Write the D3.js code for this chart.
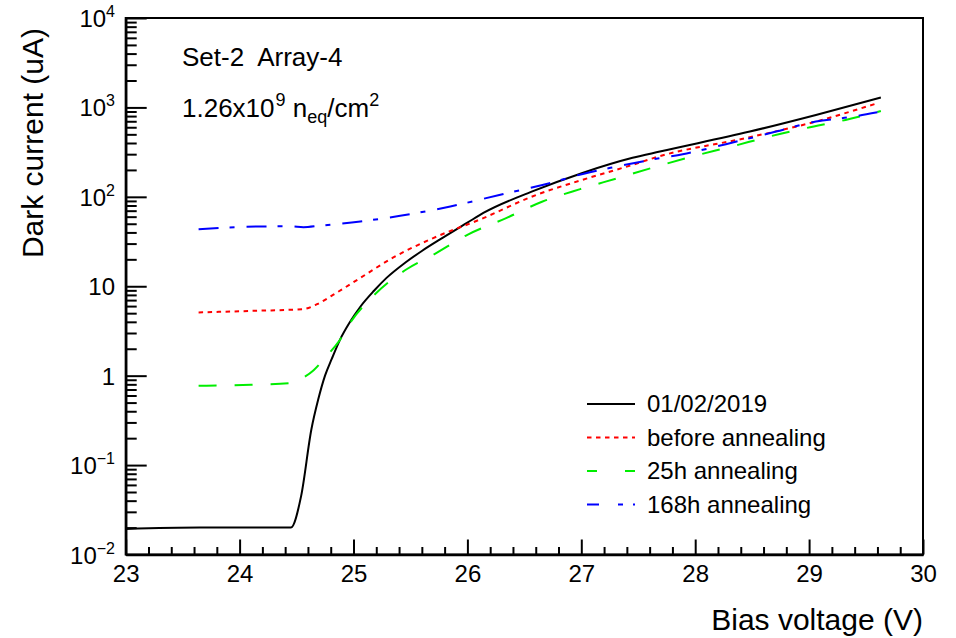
<!DOCTYPE html>
<html>
<head>
<meta charset="utf-8">
<script src="https://cdn.jsdelivr.net/npm/d3@7"></script>
<style>
  body { margin: 0; background: #fff; }
  svg { display: block; font-family: "Liberation Sans", Arial, sans-serif; }
</style>
</head>
<body>
<script>
// bias voltage (V) and dark current (uA)
const voltBlack = [23.0, 23.65, 24.45, 24.54, 24.63, 24.69, 24.75, 24.81, 24.88, 24.97, 25.06, 25.18, 25.29, 25.45, 25.60, 25.76, 26.0, 26.14, 26.57, 27.01, 27.45, 27.69, 28.48, 29.06, 29.63];
const curBlack  = [0.0193, 0.0200, 0.0200, 0.045, 0.25, 0.54, 1.0, 1.55, 2.5, 4.0, 5.9, 8.9, 12.4, 18.2, 24.8, 33.4, 51.4, 66, 115, 185, 273, 321, 537, 824, 1288];

const voltRed = [23.64, 24.10, 24.56, 24.68, 24.82, 25.06, 25.35, 25.70, 26.14, 26.57, 27.01, 27.45, 27.66, 28.48, 29.06, 29.60];
const curRed  = [5.1, 5.3, 5.56, 6.3, 8.0, 12.4, 21.0, 34.6, 57.8, 101, 155, 228, 278, 464, 695, 1115];

const voltGreen = [23.64, 24.10, 24.47, 24.56, 24.65, 24.76, 24.88, 24.97, 25.17, 25.47, 25.70, 26.0, 26.34, 26.66, 26.99, 27.32, 27.66, 27.97, 28.32, 28.67, 28.97, 29.32, 29.63];
const curGreen  = [0.77, 0.79, 0.83, 0.95, 1.15, 1.64, 2.5, 3.9, 7.7, 15.6, 22.5, 37.6, 57.8, 88.7, 122, 162, 218, 282, 365, 479, 586, 725, 912];

const voltBlue = [23.64, 24.18, 24.45, 24.56, 24.70, 25.06, 25.41, 25.85, 26.28, 26.72, 27.04, 27.31, 27.69, 27.89, 28.27, 28.71, 29.06, 29.35, 29.60];
const curBlue  = [43.5, 46.6, 46.8, 45.8, 47.5, 53, 61.4, 78, 105, 142, 184, 218, 271, 300, 388, 537, 695, 776, 884];

const legendLabels = ["01/02/2019", "before annealing", "25h annealing", "168h annealing"];
const xTicks = [23, 24, 25, 26, 27, 28, 29, 30];
const yTicks = [0.01, 0.1, 1, 10, 100, 1000, 10000];
const yTickLabels = [["10", "\u22122"], ["10", "\u22121"], ["1", ""], ["10", ""], ["10", "2"], ["10", "3"], ["10", "4"]];

const width = 956, height = 638;
const mLeft = 125.7, mRight = 923, mTop = 18, mBottom = 554.5;

const x = d3.scaleLinear().domain([23, 30]).range([mLeft, mRight]);
const y = d3.scaleLog().domain([0.01, 10000]).range([mBottom, mTop]);

const svg = d3.select("body").append("svg")
    .attr("width", width)
    .attr("height", height);

svg.append("rect")
    .attr("width", width).attr("height", height)
    .attr("fill", "#fff");

// frame
svg.append("rect")
    .attr("x", mLeft).attr("y", mTop)
    .attr("width", mRight - mLeft).attr("height", mBottom - mTop)
    .attr("fill", "none")
    .attr("stroke", "#000")
    .attr("stroke-width", 2);

// x axis, ticks pointing inward
const minorX = d3.range(23, 30.001, 0.2).filter(v => Math.abs(v - Math.round(v)) > 1e-6);

svg.append("g")
    .attr("transform", `translate(0,${mBottom})`)
    .call(d3.axisBottom(x).tickValues(minorX).tickSize(-7.5).tickSizeOuter(0).tickFormat(""))
    .call(g => g.select(".domain").remove())
    .call(g => g.selectAll("line").attr("stroke-width", 2));

svg.append("g")
    .attr("transform", `translate(0,${mBottom})`)
    .call(d3.axisBottom(x).tickValues(xTicks).tickSize(-15).tickSizeOuter(0).tickPadding(10.5).tickFormat(d3.format("d")))
    .call(g => g.select(".domain").attr("stroke-width", 2.5))
    .call(g => g.selectAll("line").attr("stroke-width", 2))
    .call(g => g.selectAll("text")
        .attr("font-size", 24)
        .attr("font-family", "Liberation Sans, Arial, sans-serif")
        .attr("fill", "#000"));

// y axis, log
const minorY = [];
for (let e = -2; e < 4; e++) for (let k = 2; k <= 9; k++) minorY.push(k * Math.pow(10, e));

svg.append("g")
    .attr("transform", `translate(${mLeft},0)`)
    .call(d3.axisLeft(y).tickValues(minorY).tickSize(-11).tickSizeOuter(0).tickFormat(""))
    .call(g => g.select(".domain").remove())
    .call(g => g.selectAll("line").attr("stroke-width", 2));

svg.append("g")
    .attr("transform", `translate(${mLeft},0)`)
    .call(d3.axisLeft(y).tickValues(yTicks).tickSize(-21).tickSizeOuter(0).tickFormat(""))
    .call(g => g.select(".domain").attr("stroke-width", 2.5))
    .call(g => g.selectAll("line").attr("stroke-width", 2));

const yl = svg.append("g")
    .attr("font-size", 24)
    .attr("text-anchor", "end")
  .selectAll("text")
  .data(yTicks)
  .join("text")
    .attr("x", 115)
    .attr("y", d => y(d) + 9);

yl.append("tspan").text((d, i) => yTickLabels[i][0]);
yl.append("tspan")
    .attr("font-size", 16)
    .attr("dy", -10)
    .text((d, i) => yTickLabels[i][1]);

// axis titles
svg.append("text")
    .attr("x", mRight)
    .attr("y", 630)
    .attr("text-anchor", "end")
    .attr("font-size", 30)
    .text("Bias voltage (V)");

svg.append("text")
    .attr("transform", "translate(43,28) rotate(-90)")
    .attr("text-anchor", "end")
    .attr("font-size", 30)
    .text("Dark current (uA)");

// annotations
svg.append("text")
    .attr("x", 182)
    .attr("y", 66)
    .attr("font-size", 26)
    .attr("xml:space", "preserve")
    .text("Set-2  Array-4");

const fl = svg.append("text")
    .attr("x", 182)
    .attr("y", 117)
    .attr("font-size", 26);
fl.append("tspan").text("1.26x10");
fl.append("tspan").attr("font-size", 18).attr("dy", -11).attr("dx", 1).text("9");
fl.append("tspan").attr("dy", 11).text(" n");
fl.append("tspan").attr("font-size", 18).attr("dy", 6).text("eq");
fl.append("tspan").attr("dy", -6).text("/cm");
fl.append("tspan").attr("font-size", 18).attr("dy", -11).text("2");

// curves
const series = [
  {v: voltBlack, c: curBlack, color: "#000", dash: null, ldash: null},
  {v: voltRed, c: curRed, color: "#ff0000", dash: "4.5,4.5", ldash: "4.5,4.5"},
  {v: voltGreen, c: curGreen, color: "#00ee00", dash: "18,18", ldash: "10,28,10"},
  {v: voltBlue, c: curBlue, color: "#0000ff", dash: "20,11,5,12", ldash: "12,19,5,10,2"}
];

const line = d3.line()
    .x(d => x(d[0]))
    .y(d => y(d[1]))
    .curve(d3.curveMonotoneX);

svg.append("g")
    .attr("fill", "none")
    .attr("stroke-width", 2)
  .selectAll("path")
  .data(series)
  .join("path")
    .attr("stroke", d => d.color)
    .attr("stroke-dasharray", d => d.dash)
    .attr("d", d => line(d.v.map((v, i) => [v, d.c[i]])));

// legend
const legend = svg.append("g")
  .selectAll("g")
  .data(series)
  .join("g")
    .attr("transform", (d, i) => `translate(587,${404 + i * 33.5})`);

legend.append("line")
    .attr("x2", 48)
    .attr("stroke", d => d.color)
    .attr("stroke-width", 2)
    .attr("stroke-dasharray", d => d.ldash);

legend.append("text")
    .attr("x", 60)
    .attr("dy", "0.35em")
    .attr("font-size", 24)
    .text((d, i) => legendLabels[i]);
</script>
</body>
</html>
